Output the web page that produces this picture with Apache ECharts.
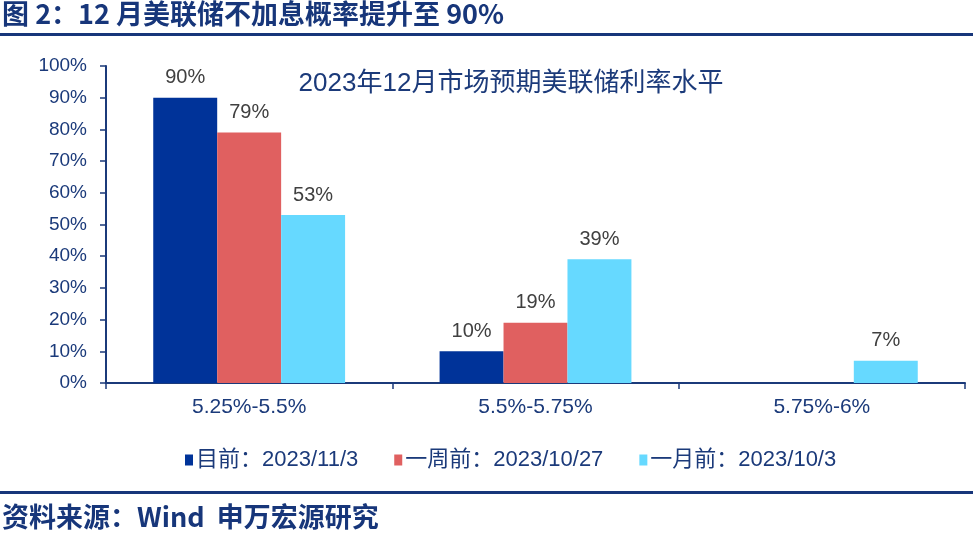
<!DOCTYPE html>
<html>
<head>
<meta charset="utf-8">
<script src="https://cdn.jsdelivr.net/npm/echarts@6/dist/echarts.min.js"></script>
<style>
html,body{margin:0;padding:0;background:#fff;}
#c{width:973px;height:543px;}
</style>
</head>
<body>
<div id="c"></div>
<script>
const categories = ['5.25%-5.5%', '5.5%-5.75%', '5.75%-6%'];
const seriesNames = ['目前：2023/11/3', '一周前：2023/10/27', '一月前：2023/10/3'];
const nowValues = [90, 10, 0];
const weekAgoValues = [79, 19, 0];
const monthAgoValues = [53, 39, 7];
const yTicks = [0, 10, 20, 30, 40, 50, 60, 70, 80, 90, 100];

const navy = '#1B3A7A';
const colors = ['#003399', '#E06060', '#66D9FF'];
const FONT = '"Liberation Sans", Arial, "Noto Sans CJK SC", sans-serif';
const CJK = '"Noto Sans CJK SC", "Liberation Sans", sans-serif';

const chart = echarts.init(document.getElementById('c'));
function mk(name, data, i) {
  return {
    name: name,
    type: 'bar',
    data: data.map(v => v === 0 ? null : v),
    barGap: '0%',
    barCategoryGap: '33%',
    itemStyle: { color: colors[i] },
    label: {
      show: true, position: 'top', distance: 10,
      formatter: '{c}%', color: '#404040', fontSize: 20, fontFamily: FONT
    }
  };
}
chart.setOption({
  animation: false,
  textStyle: { fontFamily: FONT },
  grid: { left: 106, right: 8, top: 66, bottom: 160 },
  title: {
    text: '2023年12月市场预期美联储利率水平',
    left: 506, top: 66, textAlign: 'center',
    textStyle: { fontSize: 26, fontWeight: 'normal', color: navy, fontFamily: FONT }
  },
  legend: {
    data: seriesNames,
    top: 444, left: 180,
    icon: 'rect', itemWidth: 8, itemHeight: 11, itemGap: 36,
    textStyle: { fontSize: 22, color: navy, fontFamily: FONT, padding: [0, 0, 0, -2] }
  },
  xAxis: {
    type: 'category', data: categories,
    axisLine: { lineStyle: { color: navy, width: 2 } },
    axisTick: { show: true, length: 6, lineStyle: { color: navy, width: 1.5 } },
    axisLabel: { color: navy, fontSize: 21, margin: 14, fontFamily: FONT }
  },
  yAxis: {
    type: 'value', min: yTicks[0], max: yTicks[yTicks.length - 1], interval: yTicks[1] - yTicks[0],
    axisLine: { show: true, lineStyle: { color: navy, width: 2 } },
    axisTick: { show: true, length: 6, lineStyle: { color: navy, width: 1.5 } },
    splitLine: { show: false },
    axisLabel: { color: navy, fontSize: 19, margin: 19, formatter: '{value}%', fontFamily: FONT }
  },
  series: [
    mk(seriesNames[0], nowValues, 0),
    mk(seriesNames[1], weekAgoValues, 1),
    mk(seriesNames[2], monthAgoValues, 2)
  ],
  graphic: [
    { type: 'text', left: 2, top: 0, style: { text: '图 2：12 月美联储不加息概率提升至 90%', font: 'bold 27px ' + CJK, fill: '#17367A' } },
    { type: 'rect', shape: { x: 0, y: 33, width: 973, height: 3 }, style: { fill: '#17367A' } },
    { type: 'rect', shape: { x: 0, y: 491, width: 973, height: 3 }, style: { fill: '#17367A' } },
    { type: 'text', left: 2, top: 503, style: { text: '资料来源：Wind  申万宏源研究', font: 'bold 27px ' + CJK, fill: '#17367A' } }
  ]
});
</script>
</body>
</html>
